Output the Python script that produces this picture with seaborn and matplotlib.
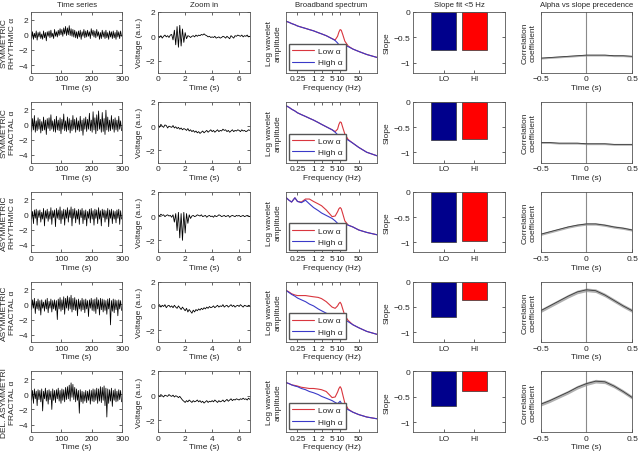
import numpy as np
import pandas as pd
import seaborn as sns
import matplotlib
matplotlib.use("Agg")
import matplotlib.pyplot as plt

# row names (left of the first column)
row_labels = ["SYMMETRIC\nRHYTHMIC α", "SYMMETRIC\nFRACTAL α", "ASYMMETRIC\nRHYTHMIC α",
              "ASYMMETRIC\nFRACTAL α", "DEL. ASYMMETRI\nFRACTAL α"]
col_titles = ["Time series", "Zoom in", "Broadband spectrum", "Slope fit <5 Hz",
              "Alpha vs slope precedence"]

# --- time series (one sample every 3 s) ---
ts_sym_rhythmic = [
    0.3, -0.5, 0.4, -0.6, 0.2, -0.4, 0.5, -0.7, 0.3, -0.3,
    0.4, -0.5, 0.1, -0.6, 0.5, -0.4, 0.3, -0.8, 0.4, -0.2,
    0.5, -0.4, 0.6, -0.3, 0.2, -0.5, 0.7, -0.2, 0.4, -0.3,
    0.6, -0.1, 0.8, 0.0, 0.7, -0.2, 0.9, 0.1, 1.1, -0.1,
    0.9, 0.0, 1.2, -0.1, 0.8, -0.2, 0.7, -0.3, 0.6, -0.4,
    0.4, -0.5, 0.5, -0.3, 0.6, -0.6, 0.4, -0.2, 0.7, -0.4,
    0.5, -0.3, 0.6, -0.2, 0.4, -0.5, 0.8, -0.1, 0.6, -0.3,
    0.5, -0.4, 0.7, -0.2, 0.4, -0.6, 0.3, -0.5, 0.6, -0.3,
    0.4, -0.5, 0.6, -0.4, 0.3, -0.6, 0.5, -0.3, 0.4, -0.5,
    0.5, -0.4, 0.3, -0.6, 0.6, -0.3, 0.4, -0.5, 0.5, -0.2]
ts_sym_fractal = [
    0.6, -0.9, 0.8, -0.7, 1.2, -1.0, 0.5, -0.8, 0.9, -0.6,
    0.7, -1.1, 0.4, -0.8, 1.0, -0.7, 0.6, -1.3, 0.8, -0.5,
    0.9, -0.8, 1.3, -0.6, 0.5, -0.9, 0.7, -1.0, 1.1, -0.7,
    0.6, -0.8, 0.9, -1.2, 0.7, -0.6, 1.4, -0.8, 0.5, -0.9,
    1.0, -0.7, 0.8, -1.1, 0.6, -0.8, 1.2, -0.6, 0.7, -1.0,
    0.9, -0.7, 0.5, -0.9, 1.1, -0.8, 0.6, -1.4, 0.8, -0.6,
    1.0, -0.9, 0.7, -0.6, 1.5, -0.8, 0.6, -1.0, 1.7, -0.7,
    0.9, -1.2, 1.3, -0.8, 1.8, -0.6, 0.7, -1.0, 1.6, -0.9,
    0.8, -1.3, 1.9, -0.7, 1.0, -0.9, 0.6, -0.8, 1.2, -0.6,
    0.7, -1.0, 0.9, -0.7, 0.6, -0.9, 1.1, -0.6, 0.5, -0.8]
ts_asym_rhythmic = [
    0.5, -0.6, 0.4, -1.2, 0.6, -0.5, 0.7, -1.4, 0.5, -0.4,
    0.6, -1.0, 0.3, -0.6, 0.8, -1.5, 0.5, -0.5, 0.7, -0.9,
    0.4, -0.6, 0.9, -1.3, 0.5, -0.4, 0.6, -1.6, 0.8, -0.5,
    0.6, -0.7, 1.0, -1.2, 0.5, -0.6, 0.7, -1.4, 0.6, -0.5,
    0.9, -1.0, 0.6, -0.4, 1.0, -1.5, 0.7, -0.5, 0.8, -1.1,
    0.5, -0.6, 0.7, -1.3, 0.6, -0.4, 0.8, -1.2, 0.5, -0.7,
    0.6, -1.5, 0.4, -0.5, 0.7, -1.1, 0.8, -0.6, 0.5, -1.4,
    0.7, -0.5, 0.6, -1.2, 0.9, -0.6, 0.5, -1.5, 0.7, -0.4,
    0.6, -1.0, 0.5, -0.6, 0.8, -1.6, 0.6, -0.5, 0.7, -1.2,
    0.5, -0.6, 0.4, -1.1, 0.6, -0.5, 0.7, -1.3, 0.5, -0.6]
ts_asym_fractal = [
    0.5, -0.7, 0.6, -0.5, 0.8, -1.2, 0.4, -0.6, 0.7, -0.8,
    0.5, -1.4, 0.6, -0.5, 0.3, -0.9, 0.6, -0.6, 0.8, -1.1,
    0.4, -0.5, 0.7, -1.0, 0.5, -0.6, 0.6, -0.8, 0.5, -2.0,
    0.7, -0.6, 0.9, -0.9, 0.6, -0.7, 1.0, -1.3, 0.8, -0.5,
    1.1, -0.8, 0.9, -0.6, 1.2, -1.0, 0.8, -0.7, 0.9, -0.8,
    0.6, -1.5, 0.7, -0.6, 0.5, -0.9, 0.8, -0.7, 0.6, -1.1,
    0.7, -0.6, 0.5, -1.6, 0.6, -0.5, 0.8, -0.8, 0.6, -0.9,
    0.7, -1.2, 0.9, -0.6, 0.6, -1.4, 0.8, -0.7, 0.7, -1.0,
    0.6, -0.8, 0.5, -1.3, 0.7, -0.6, 0.8, -2.7, 0.5, -0.9,
    0.7, -1.1, 0.6, -0.7, 0.5, -1.5, 0.6, -0.6, 0.5, -0.8]
ts_del_asym = [
    0.6, -0.8, 0.5, -1.2, 0.7, -0.6, 0.4, -1.5, 0.6, -0.7,
    0.5, -1.0, 0.7, -2.2, 0.4, -0.6, 0.8, -0.9, 0.5, -1.3,
    0.6, -0.7, 0.4, -2.0, 0.7, -0.8, 0.5, -1.1, 0.6, -0.6,
    0.8, -0.9, 0.5, -1.2, 0.7, -0.8, 0.6, -1.0, 0.9, -0.7,
    1.0, -0.6, 1.2, -0.9, 1.5, -0.4, 1.3, -0.7, 0.9, -1.0,
    0.7, -0.8, 0.5, -2.5, 0.6, -1.0, 0.4, -1.2, 0.3, -0.9,
    0.5, -1.1, 0.4, -0.8, 0.6, -1.3, 0.5, -0.9, 0.7, -1.0,
    0.6, -0.8, 0.8, -1.2, 0.7, -0.9, 1.0, -1.1, 0.9, -0.8,
    1.1, -1.5, 0.8, -3.0, 0.7, -1.2, 0.6, -0.9, 0.8, -1.6,
    0.5, -0.8, 0.7, -1.0, 0.4, -0.9, 0.6, -0.7, 0.5, -1.0]

# --- zoomed traces (one sample every 0.1 s) ---
zoom_sym_rhythmic = [
    0.0, -0.1, 0.05, -0.15, 0.0, 0.1, -0.05, 0.05, -0.1, 0.1,
    0.15, -0.3, 0.5, -0.7, 0.8, -0.9, 0.9, -0.8, 0.6, -0.5,
    0.3, -0.2, 0.05, 0.0, -0.1, 0.0, 0.05, -0.05, 0.1, 0.0,
    0.1, 0.05, 0.15, 0.1, 0.2, 0.1, 0.05, -0.05, 0.0, -0.1,
    -0.05, -0.1, 0.0, -0.15, -0.1, -0.05, -0.15, -0.1, 0.0, -0.05,
    -0.15, 0.0, -0.1, -0.2, 0.05, -0.05, -0.15, 0.05, 0.0, 0.1,
    0.05, 0.0, 0.1, -0.05, 0.05, 0.0, 0.1, -0.05, 0.0]
zoom_sym_fractal = [
    0.1, -0.1, 0.15, 0.0, -0.1, 0.1, 0.05, -0.15, 0.0, -0.05,
    -0.1, 0.05, -0.15, -0.05, -0.2, -0.1, -0.25, -0.15, -0.3, -0.2,
    -0.25, -0.35, -0.2, -0.4, -0.3, -0.45, -0.35, -0.5, -0.4, -0.55,
    -0.45, -0.6, -0.5, -0.4, -0.55, -0.45, -0.35, -0.5, -0.4, -0.3,
    -0.45, -0.35, -0.5, -0.4, -0.3, -0.45, -0.35, -0.4, -0.25, -0.35,
    -0.3, -0.45, -0.35, -0.5, -0.4, -0.3, -0.45, -0.35, -0.4, -0.3,
    -0.35, -0.45, -0.3, -0.4, -0.35, -0.45, -0.4, -0.3, -0.35]
zoom_asym_rhythmic = [
    0.1, 0.0, 0.15, 0.05, 0.1, -0.05, 0.05, 0.1, 0.0, 0.05,
    -0.1, 0.1, -0.5, 0.2, -1.2, 0.3, -1.8, 0.2, -2.0, 0.3,
    -1.4, 0.2, -0.6, 0.1, -0.2, 0.0, 0.05, -0.05, 0.0, 0.1,
    0.05, 0.0, 0.1, -0.05, 0.0, 0.05, -0.1, 0.0, 0.05, -0.05,
    0.0, -0.1, 0.05, -0.05, 0.0, 0.1, 0.05, -0.05, 0.0, 0.05,
    -0.05, 0.0, 0.05, -0.1, 0.0, 0.05, 0.0, -0.05, 0.05, 0.0,
    0.05, -0.05, 0.0, 0.05, -0.05, 0.0, 0.05, 0.0, -0.05]
zoom_asym_fractal = [
    0.0, 0.1, -0.1, 0.05, -0.05, 0.1, -0.15, 0.0, 0.05, -0.1,
    0.0, -0.15, 0.05, -0.1, -0.2, 0.0, -0.15, -0.3, -0.1, -0.25,
    -0.4, -0.2, -0.5, -0.3, -0.45, -0.6, -0.35, -0.5, -0.3, -0.4,
    -0.25, -0.35, -0.2, -0.3, -0.15, -0.25, -0.1, -0.2, -0.05, -0.15,
    -0.1, 0.0, -0.15, -0.05, 0.05, -0.1, 0.0, -0.05, 0.1, -0.1,
    0.0, 0.05, -0.1, 0.0, 0.1, -0.05, 0.05, -0.1, 0.0, 0.05,
    -0.05, 0.1, 0.0, -0.1, 0.05, 0.0, -0.05, 0.05, 0.0]
zoom_del_asym = [
    0.05, -0.05, 0.1, 0.0, -0.1, 0.05, 0.0, -0.05, 0.1, 0.0,
    -0.05, 0.05, -0.1, 0.0, -0.05, -0.15, -0.05, -0.2, -0.35, -0.45,
    -0.55, -0.4, -0.5, -0.35, -0.45, -0.55, -0.4, -0.5, -0.45, -0.35,
    -0.5, -0.4, -0.55, -0.45, -0.6, -0.5, -0.4, -0.55, -0.45, -0.5,
    -0.4, -0.5, -0.35, -0.45, -0.55, -0.4, -0.5, -0.45, -0.35, -0.5,
    -0.4, -0.3, -0.45, -0.35, -0.25, -0.4, -0.3, -0.35, -0.25, -0.3,
    -0.35, -0.25, -0.3, -0.2, -0.3, -0.25, -0.35, -0.2, -0.3]

# --- spectra (log wavelet amplitude, arbitrary units) ---
freqs = [0.09, 0.12, 0.15, 0.2, 0.25, 0.35, 0.5, 0.7, 1, 1.5, 2, 3, 5, 6.5,
         8, 9, 10, 11, 12.5, 15, 20, 30, 50, 100, 250]
spec_high = [
    [0.85, 0.83, 0.81, 0.79, 0.77, 0.75, 0.73, 0.71, 0.69, 0.66, 0.64, 0.61, 0.56,
     0.53, 0.49, 0.46, 0.44, 0.44, 0.45, 0.45, 0.43, 0.39, 0.35, 0.30, 0.25],
    [0.94, 0.91, 0.88, 0.85, 0.82, 0.79, 0.76, 0.73, 0.70, 0.66, 0.63, 0.59, 0.54,
     0.50, 0.46, 0.43, 0.40, 0.40, 0.41, 0.40, 0.37, 0.32, 0.25, 0.17, 0.11],
    [0.91, 0.86, 0.83, 0.90, 0.84, 0.82, 0.86, 0.80, 0.74, 0.69, 0.65, 0.61, 0.56,
     0.52, 0.48, 0.46, 0.45, 0.46, 0.47, 0.47, 0.45, 0.42, 0.37, 0.33, 0.29],
    [0.86, 0.82, 0.79, 0.76, 0.73, 0.70, 0.67, 0.63, 0.60, 0.55, 0.52, 0.48, 0.44,
     0.42, 0.41, 0.42, 0.43, 0.41, 0.39, 0.37, 0.34, 0.29, 0.24, 0.18, 0.13],
    [0.82, 0.80, 0.78, 0.76, 0.75, 0.72, 0.70, 0.67, 0.65, 0.62, 0.59, 0.56, 0.52,
     0.49, 0.47, 0.49, 0.51, 0.48, 0.45, 0.41, 0.37, 0.33, 0.29, 0.25, 0.22]]
spec_low = [
    [0.85, 0.83, 0.81, 0.79, 0.77, 0.75, 0.73, 0.71, 0.69, 0.66, 0.64, 0.61, 0.56,
     0.54, 0.60, 0.67, 0.71, 0.70, 0.63, 0.52, 0.44, 0.39, 0.35, 0.30, 0.25],
    [0.94, 0.91, 0.88, 0.85, 0.82, 0.79, 0.76, 0.73, 0.70, 0.66, 0.63, 0.59, 0.54,
     0.51, 0.55, 0.63, 0.67, 0.66, 0.58, 0.47, 0.38, 0.32, 0.25, 0.17, 0.11],
    [0.91, 0.86, 0.83, 0.90, 0.84, 0.83, 0.88, 0.88, 0.84, 0.80, 0.77, 0.70, 0.59,
     0.60, 0.67, 0.72, 0.74, 0.72, 0.64, 0.52, 0.45, 0.42, 0.37, 0.33, 0.29],
    [0.86, 0.83, 0.80, 0.78, 0.77, 0.77, 0.77, 0.76, 0.75, 0.74, 0.72, 0.67, 0.58,
     0.56, 0.60, 0.64, 0.66, 0.63, 0.55, 0.44, 0.36, 0.29, 0.24, 0.18, 0.13],
    [0.82, 0.80, 0.78, 0.77, 0.76, 0.74, 0.73, 0.72, 0.72, 0.71, 0.70, 0.67, 0.57,
     0.58, 0.66, 0.72, 0.75, 0.72, 0.62, 0.48, 0.38, 0.33, 0.29, 0.25, 0.22]]

# --- slope fits ---
slope_groups = ["LO", "HI"]
slope_lo = [-0.75, -0.75, -1.0, -0.69, -0.69]
slope_hi = [-0.75, -0.73, -0.97, -0.36, -0.38]

# --- alpha vs slope cross-correlation ---
lags = [-0.5, -0.4, -0.3, -0.2, -0.1, 0.0, 0.1, 0.2, 0.3, 0.4, 0.5]
corr_rows = [
    [0.24, 0.25, 0.26, 0.27, 0.28, 0.29, 0.29, 0.29, 0.28, 0.28, 0.27],
    [0.33, 0.33, 0.32, 0.32, 0.32, 0.31, 0.31, 0.31, 0.30, 0.30, 0.30],
    [0.30, 0.34, 0.38, 0.42, 0.45, 0.47, 0.47, 0.45, 0.42, 0.40, 0.37],
    [0.52, 0.60, 0.68, 0.76, 0.83, 0.865, 0.85, 0.78, 0.69, 0.60, 0.52],
    [0.46, 0.52, 0.59, 0.66, 0.74, 0.80, 0.84, 0.83, 0.76, 0.67, 0.57]]
corr_err = [0.015, 0.015, 0.02, 0.03, 0.03]

ts_rows = [ts_sym_rhythmic, ts_sym_fractal, ts_asym_rhythmic, ts_asym_fractal, ts_del_asym]
zoom_rows = [zoom_sym_rhythmic, zoom_sym_fractal, zoom_asym_rhythmic, zoom_asym_fractal, zoom_del_asym]

low_col = "#d9363e"
high_col = "#3a3ac8"
bar_cols = ["#00008c", "#ff0000"]

sns.set_style("ticks")
plt.rcParams["font.family"] = ["Liberation Sans", "DejaVu Sans"]
plt.rcParams["font.size"] = 6
plt.rcParams["axes.edgecolor"] = "#555555"
plt.rcParams["axes.linewidth"] = 0.6

fig, axes = plt.subplots(5, 5, figsize=(6.4, 4.56), dpi=100)
fig.subplots_adjust(left=0.048, right=0.988, top=0.9715, bottom=0.05, wspace=0.39, hspace=0.48)

for r in range(5):
    # time series
    ax = axes[r, 0]
    ts = ts_rows[r]
    sns.lineplot(x=np.arange(len(ts)) * 3.0, y=ts, ax=ax, color="black", linewidth=0.55)
    ax.set_xlim(0, 300)
    ax.set_ylim(-5, 3)
    ax.set_xticks([0, 100, 200, 300])
    ax.set_yticks([-4, -2, 0, 2])
    ax.set_ylabel(row_labels[r], labelpad=2)
    ax.set_xlabel("Time (s)", labelpad=1)

    # zoom in
    ax = axes[r, 1]
    z = zoom_rows[r]
    sns.lineplot(x=np.arange(len(z)) * 0.1, y=z, ax=ax, color="black", linewidth=0.6)
    ax.set_xlim(0, 6.8)
    ax.set_ylim(-3, 2)
    ax.set_xticks([0, 2, 4, 6])
    ax.set_yticks([-2, 0, 2])
    ax.set_ylabel("Voltage (a.u.)", labelpad=2)
    ax.set_xlabel("Time (s)", labelpad=1)

    # spectrum
    ax = axes[r, 2]
    spec = pd.DataFrame({"f": freqs * 2,
                         "amp": spec_low[r] + spec_high[r],
                         "cond": ["Low α"] * len(freqs) + ["High α"] * len(freqs)})
    sns.lineplot(data=spec, x="f", y="amp", hue="cond", palette=[low_col, high_col],
                 ax=ax, linewidth=0.8)
    ax.set_xscale("log")
    ax.set_xlim(0.09, 250)
    ax.set_ylim(0, 1)
    ax.set_xticks([0.25, 1, 2, 5, 10, 50])
    ax.set_xticklabels(["0.25", "1", "2", "5", "10", "50"])
    ax.minorticks_off()
    ax.set_yticks([])
    ax.set_ylabel("Log wavelet\namplitude", labelpad=3)
    ax.set_xlabel("Frequency (Hz)", labelpad=1)
    ax.legend(loc="lower left", title=None, fontsize=6, handlelength=2.6,
              handletextpad=0.5, frameon=True, fancybox=False, edgecolor="#555555",
              borderpad=0.4, labelspacing=0.45, borderaxespad=0.35, framealpha=1)

    # slope bars
    ax = axes[r, 3]
    sns.barplot(x=slope_groups, y=[slope_lo[r], slope_hi[r]], hue=slope_groups,
                palette=bar_cols, ax=ax, width=0.8, legend=False, saturation=1,
                edgecolor="#333333", linewidth=0.5)
    ax.set_xlim(-1, 2)
    ax.set_ylim(-1.2, 0)
    ax.set_yticks([0, -0.5, -1])
    ax.set_yticklabels(["0", "−0.5", "−1"])
    ax.set_ylabel("Slope", labelpad=2)
    ax.set_xlabel("")

    # correlation
    ax = axes[r, 4]
    c = np.array(corr_rows[r])
    ax.axvline(0, color="#8a8a8a", linewidth=0.8)
    ax.fill_between(lags, c - corr_err[r], c + corr_err[r], color="#b0b0b0", linewidth=0)
    sns.lineplot(x=lags, y=c, ax=ax, color="#3a3a3a", linewidth=0.6)
    ax.set_xlim(-0.5, 0.5)
    ax.set_ylim(0, 1)
    ax.set_xticks([-0.5, 0, 0.5])
    ax.set_xticklabels(["−0.5", "0", "0.5"])
    ax.set_yticks([])
    ax.set_ylabel("Correlation\ncoefficient", labelpad=3)
    ax.set_xlabel("Time (s)", labelpad=1)

for r in range(5):
    for c in range(5):
        ax = axes[r, c]
        ax.tick_params(direction="in", length=2, width=0.5, pad=2, labelsize=6,
                       top=True, right=True)
        for s in ax.spines.values():
            s.set_visible(True)
        if r == 0:
            ax.set_title(col_titles[c], fontsize=5.6, pad=4)

fig.savefig("out.png", dpi=100)
